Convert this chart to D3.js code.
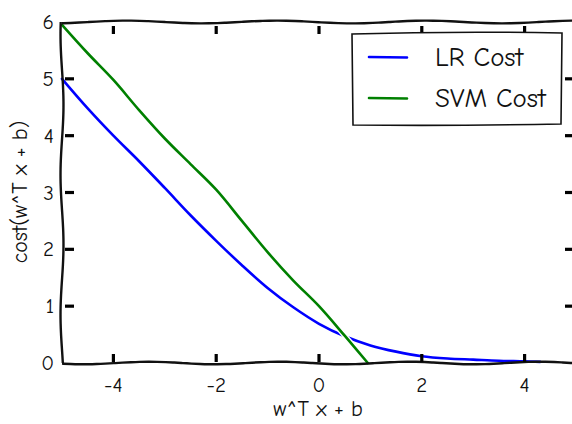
<!DOCTYPE html>
<html><head><meta charset="utf-8">
<script src="https://cdn.jsdelivr.net/npm/d3@7"></script>
<style>
html,body{margin:0;padding:0;background:#fff;}
svg{display:block;}
text{font-family:"Humor Sans","Comic Sans MS","Comic Neue","DejaVu Sans",sans-serif;fill:#111;}
</style></head>
<body>
<script>
// ---- data ----
const lrX    = [-5, -4.5, -4, -3.5, -3, -2.5, -2, -1.5, -1, -0.5, 0, 0.5, 1, 1.5, 2, 2.5, 3, 3.5, 4, 4.3];
const lrCost = [5.0, 4.48, 4.0, 3.55, 3.08, 2.6, 2.15, 1.72, 1.32, 0.98, 0.69, 0.47, 0.31, 0.2, 0.12, 0.08, 0.06, 0.04, 0.03, 0.02];
const svmX    = [-5, -4.5, -4, -3.5, -3, -2.5, -2, -1.5, -1, -0.5, 0, 0.5, 0.95];
const svmCost = [5.95, 5.45, 4.98, 4.45, 3.95, 3.5, 3.05, 2.5, 1.95, 1.45, 1.0, 0.48, 0.0];
const xTicks = [-4, -2, 0, 2, 4];
const yTicks = [0, 1, 2, 3, 4, 5, 6];
const seriesNames = ["LR Cost", "SVM Cost"];
const seriesColors = ["#0000ff", "#008000"];

const W = 572, H = 424;
const svg = d3.select("body").append("svg").attr("width", W).attr("height", H);
const x = d3.scaleLinear().domain([-5, 5]).range([62, 576]);
const y = d3.scaleLinear().domain([0, 6]).range([363, 22]);

// wiggly line helper (xkcd style decoration)
function wiggle(x0, y0, x1, y1, amp, period, phase) {
  const n = 60, pts = [];
  const dx = x1 - x0, dy = y1 - y0, len = Math.hypot(dx, dy);
  const nx = -dy / len, ny = dx / len;
  for (let i = 0; i <= n; i++) {
    const t = i / n;
    const off = amp * Math.sin(t * len / period * 2 * Math.PI + phase);
    pts.push([x0 + dx * t + nx * off, y0 + dy * t + ny * off]);
  }
  return d3.line().curve(d3.curveBasis)(pts);
}

const lineGen = d3.line().x(d => x(d[0])).y(d => y(d[1])).curve(d3.curveCatmullRom);
const series = [d3.zip(lrX, lrCost), d3.zip(svmX, svmCost)];
const g = svg.append("g");
series.forEach((s, i) => {
  g.append("path").attr("d", lineGen(s)).attr("fill", "none").attr("stroke", "#fff").attr("stroke-width", 5.5).attr("stroke-linecap", "round");
  g.append("path").attr("d", lineGen(s)).attr("fill", "none").attr("stroke", seriesColors[i]).attr("stroke-width", 2.6).attr("stroke-linecap", "round");
});

// spines (right spine lies just outside the visible window)
const sp = svg.append("g").attr("fill", "none").attr("stroke", "#111").attr("stroke-width", 2.4);
sp.append("path").attr("d", wiggle(x(-5), y(0), x(5) + 4, y(0), 1.3, 130, 0.5));
sp.append("path").attr("d", wiggle(x(-5), y(6), x(5) + 4, y(6), 1.4, 150, 2.0));
sp.append("path").attr("d", wiggle(x(-5), y(6), x(-5), y(0), 1.5, 140, 1.0));

// ticks
const tk = svg.append("g").attr("stroke", "#000").attr("stroke-width", 3.2);
xTicks.forEach(v => {
  tk.append("line").attr("x1", x(v)).attr("x2", x(v)).attr("y1", y(0) - 1).attr("y2", y(0) - 9);
  tk.append("line").attr("x1", x(v)).attr("x2", x(v)).attr("y1", y(6) + 4).attr("y2", y(6) + 12);
});
yTicks.filter(v => v > 0 && v < 6).forEach(v => {
  tk.append("line").attr("x1", x(-5) + 3).attr("x2", x(-5) + 12).attr("y1", y(v)).attr("y2", y(v));
  tk.append("line").attr("x1", x(5) - 11).attr("x2", x(5) - 4).attr("y1", y(v)).attr("y2", y(v));
});

// tick labels
xTicks.forEach(v => {
  svg.append("text").attr("x", x(v)).attr("y", 392).attr("text-anchor", "middle").attr("font-size", 21).text(v < 0 ? "-" + Math.abs(v) : v);
});
yTicks.forEach(v => {
  svg.append("text").attr("x", 54).attr("y", y(v) + 7).attr("text-anchor", "end").attr("font-size", 21).text(v);
});

// axis labels
svg.append("text").attr("x", 318).attr("y", 416).attr("text-anchor", "middle").attr("font-size", 22).text("w^T x + b");
svg.append("text").attr("transform", "translate(27,192) rotate(-90)").attr("text-anchor", "middle").attr("font-size", 22).text("cost(w^T x + b)");

// legend
const lg = svg.append("g");
lg.append("path").attr("d", "M352,34 Q455,31 562,33 L561,124 Q455,126 353,125 Z")
  .attr("fill", "#fff").attr("stroke", "#111").attr("stroke-width", 1.6);
seriesNames.forEach((name, i) => {
  const yy = 57 + i * 41;
  lg.append("line").attr("x1", 369).attr("x2", 407).attr("y1", yy).attr("y2", yy + 0.5).attr("stroke", seriesColors[i]).attr("stroke-width", 2.6).attr("stroke-linecap", "round");
  lg.append("text").attr("x", 435).attr("y", yy + 9).attr("font-size", 27).text(name);
});
</script>
</body></html>
